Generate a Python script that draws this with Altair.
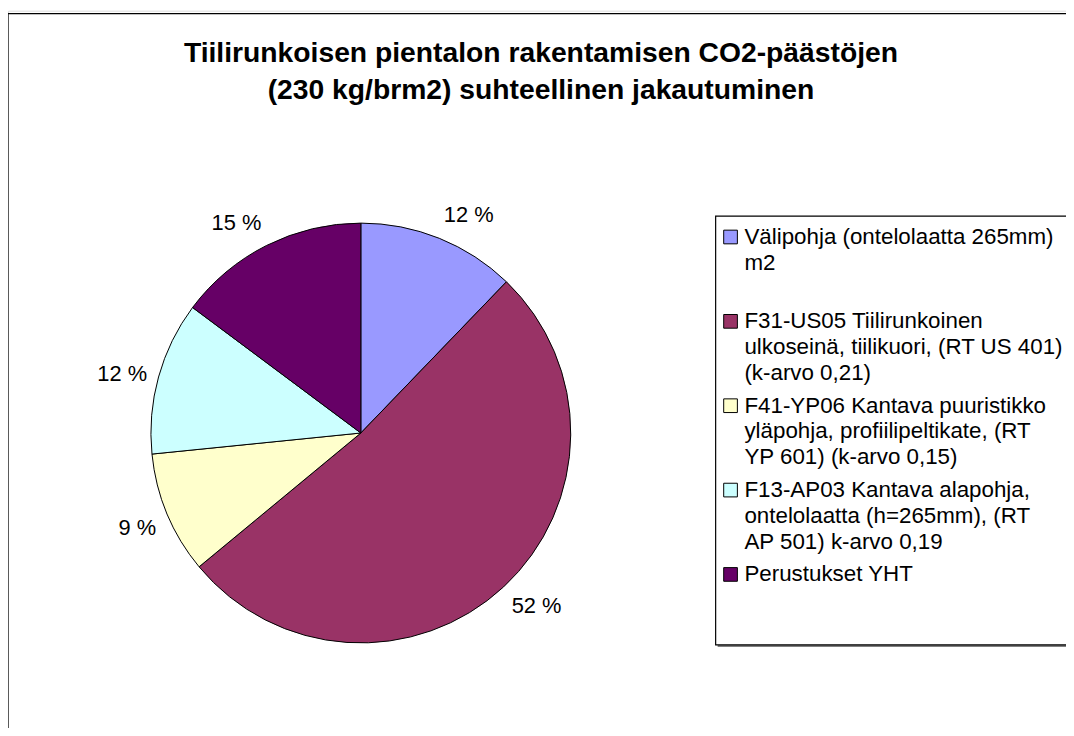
import altair as alt
import pandas as pd

# ---- data ----
categories = [
    "Välipohja (ontelolaatta 265mm) m2",
    "F31-US05 Tiilirunkoinen ulkoseinä, tiilikuori, (RT US 401) (k-arvo 0,21)",
    "F41-YP06 Kantava puuristikko yläpohja, profiilipeltikate, (RT YP 601) (k-arvo 0,15)",
    "F13-AP03 Kantava alapohja, ontelolaatta (h=265mm), (RT AP 501) k-arvo 0,19",
    "Perustukset YHT",
]
legend_lines = [
    "Välipohja (ontelolaatta 265mm)\nm2",
    "F31-US05 Tiilirunkoinen\nulkoseinä, tiilikuori, (RT US 401)\n(k-arvo 0,21)",
    "F41-YP06 Kantava puuristikko\nyläpohja, profiilipeltikate, (RT\nYP 601) (k-arvo 0,15)",
    "F13-AP03 Kantava alapohja,\nontelolaatta (h=265mm), (RT\nAP 501) k-arvo 0,19",
    "Perustukset YHT",
]
values = [12.2, 51.8, 9.4, 11.8, 14.8]
pct_labels = ["12 %", "52 %", "9 %", "12 %", "15 %"]
colors = ["#9999FF", "#993366", "#FFFFCC", "#CCFFFF", "#660066"]
title_text = ["Tiilirunkoisen pientalon rakentamisen CO2-päästöjen\n(230 kg/brm2) suhteellinen jakautuminen"]

FONT = "Liberation Sans"
W, H = 1066, 720
CX, CY, R = 355.5, 425.5, 211.5
TOTAL = sum(values)

df = pd.DataFrame({
    "cat": categories,
    "value": values,
    "pct": pct_labels,
    "idx": list(range(len(categories))),
    "legend": legend_lines,
})

color = alt.Color("cat:N", scale=alt.Scale(domain=categories, range=colors), legend=None)
theta_scale = alt.Scale(domain=[0, TOTAL])

base = alt.Chart(df)

# outer border
frame = alt.Chart(pd.DataFrame({"a": [0]})).mark_rect(
    fill="white", stroke="black", strokeWidth=1.3
).encode(x=alt.value(0), x2=alt.value(W + 20), y=alt.value(3), y2=alt.value(H + 40))

pie = base.mark_arc(outerRadius=R, stroke="black", strokeWidth=1).encode(
    theta=alt.Theta("value:Q", stack=True, scale=theta_scale),
    color=color,
    order=alt.Order("idx:Q"),
    x=alt.value(CX),
    y=alt.value(CY),
)

# label layers: placed outside the pie, aligned by the quadrant of the slice middle
lab_base = base.transform_window(
    cum="sum(value)", sort=[alt.SortField("idx")], frame=[None, 0]
).transform_calculate(
    mid="datum.cum - datum.value / 2",
    ang=f"2 * PI * (datum.cum - datum.value / 2) / {TOTAL}",
)

def label_layer(cond, align, baseline):
    return lab_base.transform_filter(cond).mark_text(
        radius=R + 12, font=FONT, fontSize=22, color="black",
        align=align, baseline=baseline,
    ).encode(
        theta=alt.Theta("mid:Q", scale=theta_scale, stack=None),
        text="pct:N",
        x=alt.value(CX),
        y=alt.value(CY),
    )

label_layers = [
    label_layer("sin(datum.ang) >= 0 && cos(datum.ang) >= 0.3", "left", "bottom"),
    label_layer("sin(datum.ang) >= 0 && cos(datum.ang) <= -0.3", "left", "top"),
    label_layer("sin(datum.ang) >= 0 && abs(cos(datum.ang)) < 0.3", "left", "middle"),
    label_layer("sin(datum.ang) < 0 && cos(datum.ang) >= 0.3", "right", "bottom"),
    label_layer("sin(datum.ang) < 0 && cos(datum.ang) <= -0.3", "right", "top"),
    label_layer("sin(datum.ang) < 0 && abs(cos(datum.ang)) < 0.3", "right", "middle"),
]

title = alt.Chart(pd.DataFrame({"t": title_text})).mark_text(
    font=FONT, fontSize=28.5, fontWeight="bold", lineBreak="\n", lineHeight=37,
    align="center", baseline="alphabetic", color="black"
).encode(text="t:N", x=alt.value(537), y=alt.value(52))

# legend box with slight shadow at bottom
legend_shadow = alt.Chart(pd.DataFrame({"a": [0]})).mark_rect(
    fill="#808080"
).encode(x=alt.value(715), x2=alt.value(W + 20), y=alt.value(209), y2=alt.value(641))
legend_box = alt.Chart(pd.DataFrame({"a": [0]})).mark_rect(
    fill="white", stroke="black", strokeWidth=1.2
).encode(x=alt.value(713), x2=alt.value(W + 20), y=alt.value(207), y2=alt.value(639))

yscale = alt.Scale(domain=[0, 4], range=[228, 568])

legend_sq = base.mark_square(size=190, stroke="black", strokeWidth=1, opacity=1).encode(
    y=alt.Y("idx:Q", scale=yscale, axis=None),
    x=alt.value(728),
    color=color,
)

legend_txt = base.mark_text(
    font=FONT, fontSize=22.5, align="left", baseline="alphabetic",
    lineBreak="\n", lineHeight=26, dy=7, color="black"
).encode(
    y=alt.Y("idx:Q", scale=yscale, axis=None),
    x=alt.value(742),
    text="legend:N",
)

chart = alt.layer(
    frame, pie, *label_layers, title, legend_shadow, legend_box, legend_sq, legend_txt
).properties(
    width=W, height=H,
    autosize=alt.AutoSizeParams(type="none"),
    padding=0,
).configure_view(strokeWidth=0).configure(background="white")

chart.save("out.html", embed_options={"renderer": "svg", "actions": False})
